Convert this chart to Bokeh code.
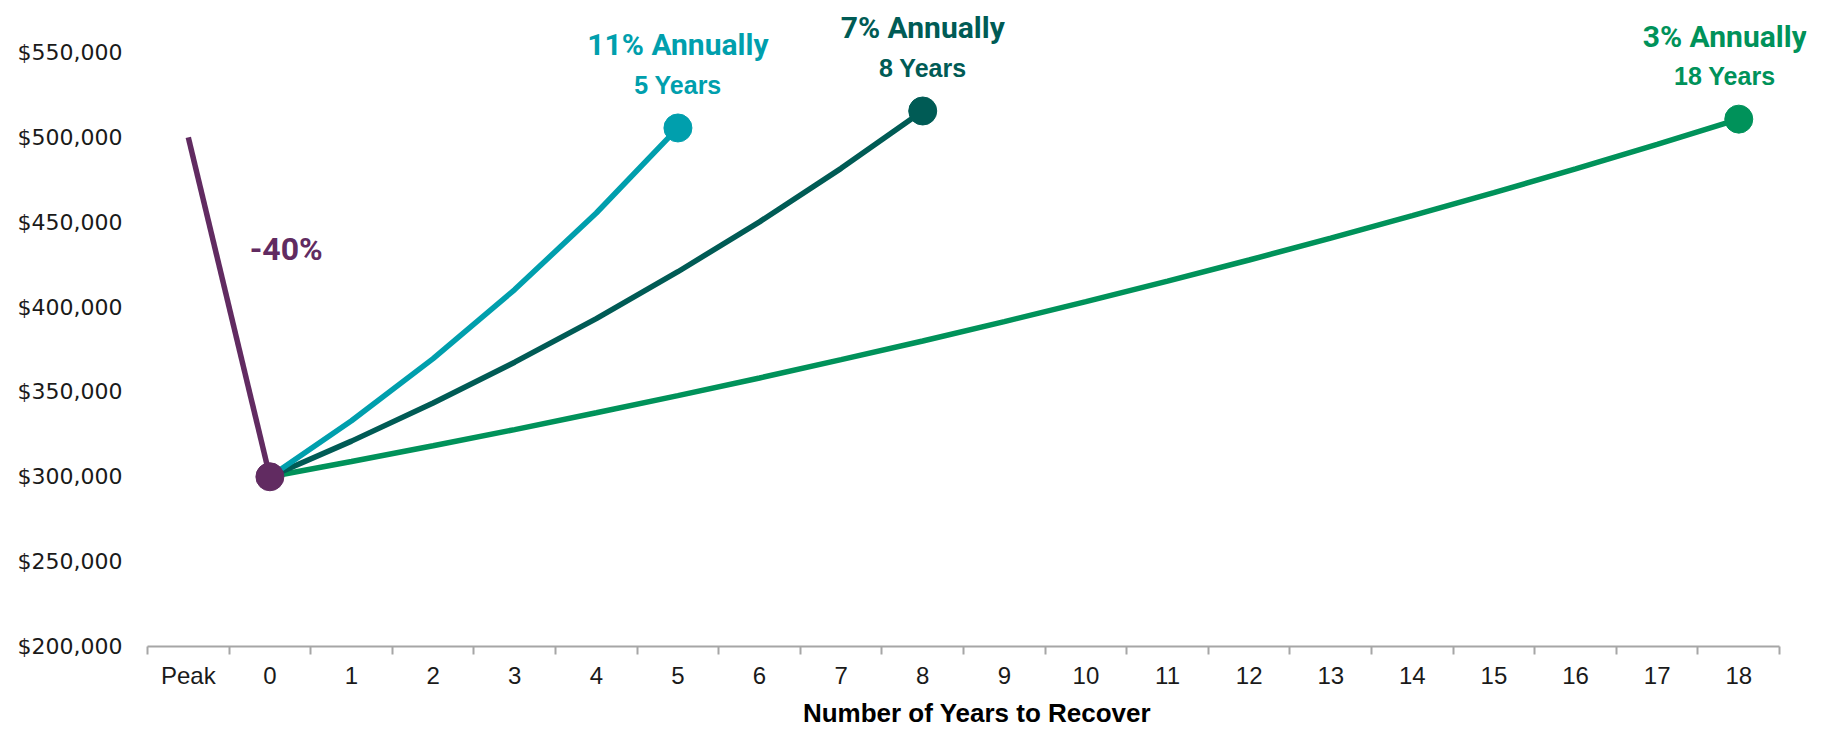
from bokeh.plotting import figure
from bokeh.models import Range1d, FixedTicker, NumeralTickFormatter
from bokeh.core.properties import value
from bokeh.embed import file_html
from bokeh.resources import INLINE

# ---------------- data ----------------
x_positions = [-1, 0, 1, 2, 3, 4, 5, 6, 7, 8, 9, 10, 11, 12, 13, 14, 15, 16, 17, 18]
x_labels = ["Peak", "0", "1", "2", "3", "4", "5", "6", "7", "8", "9",
            "10", "11", "12", "13", "14", "15", "16", "17", "18"]

peak_years = [-1, 0]
peak_values = [500000, 300000]

years_11 = [0, 1, 2, 3, 4, 5]
values_11 = [300000, 333000, 369600, 410300, 455400, 505500]

years_7 = [0, 1, 2, 3, 4, 5, 6, 7, 8]
values_7 = [300000, 321000, 343500, 367500, 393200, 420800, 450200, 481700, 515500]

years_3 = [0, 1, 2, 3, 4, 5, 6, 7, 8, 9, 10, 11, 12, 13, 14, 15, 16, 17, 18]
values_3 = [300000, 309000, 318300, 327800, 337700, 347800, 358200, 369000, 380000,
            391400, 403200, 415300, 427700, 440600, 453800, 467400, 481400, 495900, 510700]

y_ticks = [200000, 250000, 300000, 350000, 400000, 450000, 500000, 550000]

drop_label = "-40%"
drop_label_x = 0.2
drop_label_y = 434000

rate_titles = ["11% Annually", "7% Annually", "3% Annually"]
rate_years = ["5 Years", "8 Years", "18 Years"]

# ---------------- styles ----------------
PURPLE = "#612b61"
TEAL = "#009fad"
DARK = "#005b55"
GREEN = "#00925a"
AXIS_GRAY = "#a6a6a6"

p = figure(width=1826, height=730, output_backend="svg", toolbar_location=None,
           x_range=Range1d(-1.5, 18.83), y_range=Range1d(200000, 580600),
           min_border_left=147, min_border_right=20, min_border_top=0,
           min_border_bottom=83)
p.outline_line_color = None
p.grid.visible = False
p.background_fill_color = "white"
p.border_fill_color = "white"

# x axis
boundaries = [x - 0.5 for x in x_positions] + [x_positions[-1] + 0.5]
p.xaxis.bounds = (boundaries[0], boundaries[-1])
p.xaxis.ticker = FixedTicker(ticks=x_positions, minor_ticks=boundaries)
p.xaxis.major_label_overrides = {x: l for x, l in zip(x_positions, x_labels)}
p.xaxis.axis_line_color = AXIS_GRAY
p.xaxis.axis_line_width = 2
p.xaxis.major_tick_line_color = None
p.xaxis.major_tick_out = 0
p.xaxis.major_tick_in = 0
p.xaxis.minor_tick_line_color = AXIS_GRAY
p.xaxis.minor_tick_line_width = 2
p.xaxis.minor_tick_out = 8
p.xaxis.minor_tick_in = 0
p.xaxis.major_label_standoff = 7
p.xaxis.major_label_text_font = "Liberation Sans"
p.xaxis.major_label_text_font_size = "24px"
p.xaxis.major_label_text_color = "#1a1a1a"
p.xaxis.axis_label = "Number of Years to Recover"
p.xaxis.axis_label_text_font = "Liberation Sans"
p.xaxis.axis_label_text_font_style = "bold"
p.xaxis.axis_label_text_font_size = "26px"
p.xaxis.axis_label_text_color = "#000000"
p.xaxis.axis_label_standoff = 6

# y axis
p.yaxis.ticker = FixedTicker(ticks=y_ticks)
p.yaxis.formatter = NumeralTickFormatter(format="$0,0")
p.yaxis.axis_line_color = None
p.yaxis.major_tick_line_color = None
p.yaxis.minor_tick_line_color = None
p.yaxis.major_tick_out = 0
p.yaxis.major_tick_in = 0
p.yaxis.major_label_standoff = 25
p.yaxis.major_label_text_font = "DejaVu Sans"
p.yaxis.major_label_text_font_size = "22px"
p.yaxis.major_label_text_color = "#1a1a1a"

# lines
LW = 5.5
p.line(years_3, values_3, line_color=GREEN, line_width=LW)
p.line(years_7, values_7, line_color=DARK, line_width=LW)
p.line(years_11, values_11, line_color=TEAL, line_width=LW)
p.line(peak_years, peak_values, line_color=PURPLE, line_width=LW)

# end markers
MS = 28
p.scatter([years_11[-1]], [values_11[-1]], size=MS, color=TEAL)
p.scatter([years_7[-1]], [values_7[-1]], size=MS, color=DARK)
p.scatter([years_3[-1]], [values_3[-1]], size=MS, color=GREEN)
p.scatter([peak_years[-1]], [peak_values[-1]], size=MS, color=PURPLE)

# labels
BOLDF = value("Roboto")
REG = value("Liberation Sans")

def rate_label(x, y, title, sub, color, dx):
    p.text([x], [y], text=[title], text_font=BOLDF, text_font_style="bold",
           text_font_size="30px", text_color=color, text_align="center",
           text_baseline="middle", x_offset=dx, y_offset=-83)
    p.text([x], [y], text=[sub], text_font=REG, text_font_style="bold",
           text_font_size="25px", text_color=color, text_align="center",
           text_baseline="middle", x_offset=dx, y_offset=-43)

rate_label(years_11[-1], values_11[-1], rate_titles[0], rate_years[0], TEAL, 0)
rate_label(years_7[-1], values_7[-1], rate_titles[1], rate_years[1], DARK, 0)
rate_label(years_3[-1], values_3[-1], rate_titles[2], rate_years[2], GREEN, -14)

p.text([drop_label_x], [drop_label_y], text=[drop_label], text_font=BOLDF,
       text_font_style="bold", text_font_size="32px", text_color=PURPLE,
       text_align="center", text_baseline="middle")

open("out.html", "w").write(file_html(p, INLINE))
